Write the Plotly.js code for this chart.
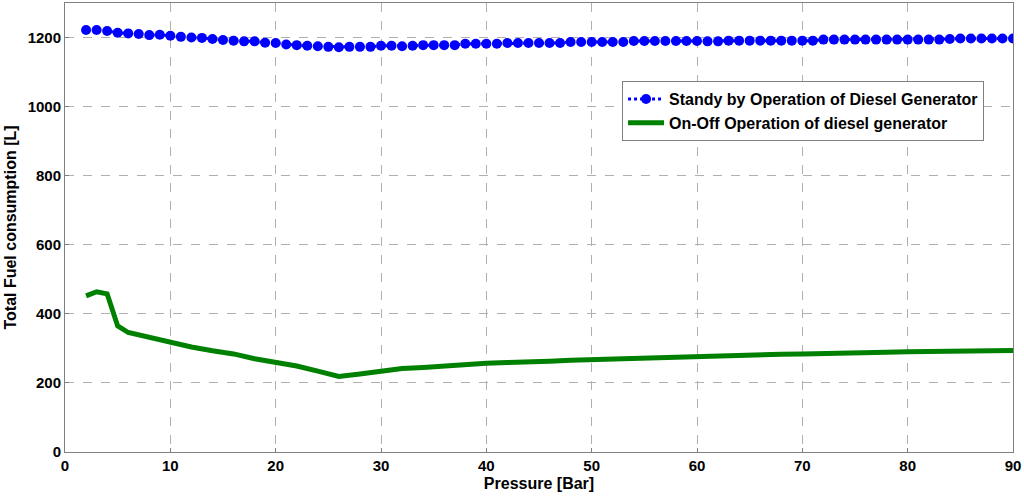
<!DOCTYPE html>
<html>
<head>
<meta charset="utf-8">
<script src="https://cdn.plot.ly/plotly-3.0.1.min.js"></script>
<style>
  html, body { margin: 0; padding: 0; background: #fff; }
  #chart { width: 1024px; height: 496px; }
</style>
</head>
<body>
<div id="chart"></div>
<script>
// pressure steps for the standby series (1 bar apart)
var standbyX = [];
for (var p = 2; p <= 90; p++) standbyX.push(p);

var standbyY = [
  1222, 1222, 1219, 1214, 1212, 1210, 1207, 1208, 1205, 1202,
  1200, 1199, 1196, 1193, 1191, 1189, 1189, 1185, 1184, 1180,
  1178, 1176, 1175, 1173, 1172, 1173, 1173, 1173, 1176, 1176,
  1175, 1176, 1178, 1178, 1178, 1178, 1182, 1182, 1182, 1182,
  1184, 1184, 1184, 1184, 1184, 1184, 1187, 1187, 1187, 1187,
  1187, 1187, 1190, 1190, 1190, 1190, 1190, 1190, 1190, 1189,
  1189, 1191, 1191, 1191, 1191, 1191, 1191, 1191, 1191, 1191,
  1194, 1194, 1194, 1194, 1194, 1194, 1194, 1194, 1194, 1194,
  1194, 1194, 1196, 1197, 1197, 1197, 1197, 1197, 1197
];

var onOffX = [2, 3, 4, 5, 6, 8, 10, 12, 14, 16, 18, 20, 22, 24, 26, 28, 30,
  32, 34, 36, 38, 40, 42, 44, 46, 48, 50, 52, 54, 56, 58, 60, 62, 64, 66,
  68, 70, 72, 74, 76, 78, 80, 82, 84, 86, 88, 90];
var onOffY = [452, 464, 458, 365, 346, 331, 318, 304, 293, 284, 270, 260,
  249, 234, 219, 226, 234, 242, 245, 250, 254, 257, 259, 260, 263, 266,
  268, 269, 272, 274, 276, 278, 280, 281, 282, 283, 284, 286, 287, 288,
  289, 290, 291, 291, 292, 294, 294];

var xTicks = [0, 10, 20, 30, 40, 50, 60, 70, 80, 90];
var yTicks = [0, 200, 400, 600, 800, 1000, 1200];

var font = 'Liberation Sans, Arial, sans-serif';

var standby = {
  x: standbyX,
  y: standbyY,
  name: 'Standy by Operation of Diesel Generator',
  mode: 'lines+markers',
  line: { color: '#0000ff', width: 3, dash: 'dot' },
  marker: { color: '#0000ff', size: 10, symbol: 'circle' },
  type: 'scatter'
};

var onOff = {
  x: onOffX,
  y: onOffY,
  name: 'On-Off Operation of diesel generator',
  mode: 'lines',
  line: { color: '#008000', width: 5 },
  type: 'scatter'
};

var axisBase = {
  showline: true,
  mirror: true,
  linecolor: '#808080',
  linewidth: 1,
  showgrid: true,
  gridcolor: '#b0b0b0',
  griddash: 'dash',
  gridwidth: 1,
  zeroline: false,
  ticks: 'inside',
  ticklen: 4,
  tickcolor: '#808080',
  tickfont: { family: font, size: 15, color: '#000', weight: 'bold' }
};

var layout = {
  width: 1024,
  height: 496,
  margin: { l: 65, r: 11, t: 3, b: 44 },
  paper_bgcolor: '#fff',
  plot_bgcolor: '#fff',
  showlegend: true,
  xaxis: Object.assign({}, axisBase, {
    range: [0, 90],
    tickvals: xTicks,
    title: { text: 'Pressure [Bar]', font: { family: font, size: 16, color: '#000', weight: 'bold' }, standoff: 4 }
  }),
  yaxis: Object.assign({}, axisBase, {
    range: [0, 1300],
    tickvals: yTicks,
    title: { text: 'Total Fuel consumption [L]', font: { family: font, size: 16, color: '#000', weight: 'bold' }, standoff: 7 }
  }),
  legend: {
    x: 0.5876, y: 0.826,
    xanchor: 'left', yanchor: 'top',
    bgcolor: '#fff',
    bordercolor: '#808080',
    borderwidth: 1,
    font: { family: font, size: 16, color: '#000', weight: 'bold' },
    itemwidth: 36,
    tracegroupgap: 0
  }
};

Plotly.newPlot('chart', [standby, onOff], layout, { displayModeBar: false, staticPlot: true });
</script>
</body>
</html>
